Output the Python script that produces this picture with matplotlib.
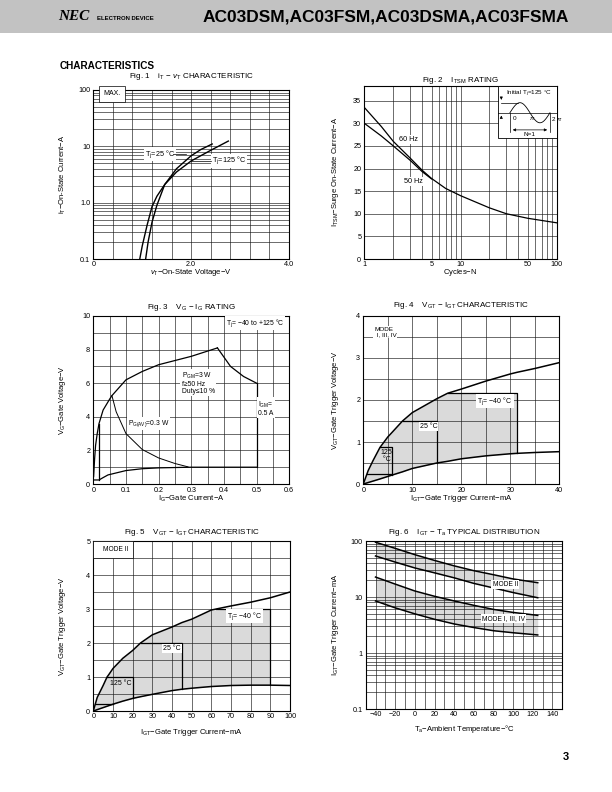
import numpy as np
import matplotlib
matplotlib.use('Agg')
from matplotlib import pyplot as plt
from matplotlib.patches import Rectangle

plt.rcParams['font.family'] = ['Liberation Sans', 'DejaVu Sans']
plt.rcParams['mathtext.fontset'] = 'custom'
plt.rcParams['mathtext.rm'] = 'Liberation Sans'
plt.rcParams['mathtext.it'] = 'Liberation Sans:italic'

W, H = 612, 792

# Fig 1: iT - vT
vT_125 = [0.95, 1.0, 1.1, 1.2, 1.3, 1.46, 1.7, 2.0, 2.4, 2.76]
iT_125 = [0.1, 0.17, 0.4, 0.85, 1.3, 2.1, 3.5, 5.5, 8.5, 12.4]
vT_25 = [1.07, 1.12, 1.2, 1.3, 1.46, 1.7, 2.0, 2.2, 2.43]
iT_25 = [0.1, 0.2, 0.45, 0.9, 2.1, 4.0, 6.8, 8.8, 11.0]

# Fig 2: ITSM rating
N_60 = [1, 1.5, 2, 3, 4, 5, 7, 10, 20, 30, 50, 100]
I_60 = [33.5, 29.3, 26.0, 22.3, 19.6, 17.8, 15.6, 14.0, 11.3, 10.0, 9.0, 8.0]
N_50 = [1, 1.5, 2, 3, 4, 5]
I_50 = [30.0, 27.2, 25.0, 21.8, 19.3, 17.7]

# Fig 3: VG - IG rating
IG_up = [0.001, 0.004, 0.007, 0.012, 0.0175, 0.03, 0.05, 0.057, 0.1, 0.15, 0.2, 0.3, 0.38]
VG_up = [0.44, 1.5, 2.3, 3.0, 3.6, 4.4, 5.05, 5.26, 6.2, 6.7, 7.1, 7.6, 8.1]
IG_pgm = [0.38, 0.42, 0.46, 0.5]
VG_pgm = [8.1, 7.0, 6.4, 6.0]
IG_pav = [0.057, 0.07, 0.1, 0.15, 0.2, 0.25, 0.29]
VG_pav = [5.26, 4.3, 3.0, 2.05, 1.55, 1.22, 1.02]
IG_lo = [0, 0.0175, 0.03, 0.045, 0.1, 0.15, 0.2, 0.3, 0.5]
VG_lo = [0.24, 0.24, 0.38, 0.54, 0.8, 0.91, 0.96, 1.0, 1.0]
IGM = 0.5

# Fig 4: VGT - IGT, mode I, III, IV
IGT4 = [0, 1, 2, 3.4, 5, 5.8, 8, 10, 15, 17.2, 20, 25, 30, 31.4, 35, 40]
VUP4 = [0, 0.32, 0.56, 0.87, 1.12, 1.22, 1.5, 1.7, 2.03, 2.16, 2.26, 2.45, 2.62, 2.66, 2.75, 2.89]
VLO4 = [0, 0.035, 0.07, 0.12, 0.18, 0.21, 0.29, 0.37, 0.5, 0.54, 0.6, 0.67, 0.72, 0.73, 0.75, 0.77]
BOX4_I = [5.8, 15.1, 31.4]
BOX4_V = [0.87, 1.51, 2.16]
BASE4_V = 0.25

# Fig 5: VGT - IGT, mode II
IGT5 = [0, 1, 2, 5, 7, 8, 10, 15, 20, 24, 30, 40, 45, 50, 60, 70, 80, 90, 100]
VUP5 = [0, 0.2, 0.4, 0.75, 1.0, 1.08, 1.25, 1.55, 1.78, 2.0, 2.24, 2.47, 2.6, 2.7, 2.97, 3.09, 3.2, 3.33, 3.5]
VLO5 = [0, 0.02, 0.04, 0.1, 0.14, 0.16, 0.2, 0.29, 0.37, 0.42, 0.49, 0.6, 0.64, 0.67, 0.72, 0.75, 0.76, 0.76, 0.75]
BOX5_I = [20, 45, 90]
BOX5_V = [1.0, 2.0, 3.0]
BASE5_V = 0.2

# Fig 6: IGT - Ta distribution
Ta = [-40, -20, 0, 20, 40, 60, 80, 100, 125]
m2_hi = [95, 74, 57, 45, 36, 29.5, 25, 21, 18]
m2_lo = [54, 42, 33, 27, 22, 17.5, 14.5, 12, 9.7]
m1_hi = [22.7, 17, 12.8, 10.3, 8.5, 7.1, 6.0, 5.3, 4.7]
m1_lo = [8.5, 6.4, 5.0, 4.0, 3.3, 2.85, 2.5, 2.3, 2.1]

fig = plt.figure(figsize=(6.12, 7.92), dpi=100)

def fx(x):
    return x / W

def fy(y):
    return 1 - y / H

TICK_FS = 5.2
LAB_FS = 5.5
GRID = dict(color='#1a1a1a', lw=0.45)
WHITE = dict(fc='white', ec='none', pad=0.8)
SHADE = '#dadada'


def make_ax(l, t, r, b, title, title_y, xlabel, xlabel_y, ylabel, ylabel_x):
    ax = fig.add_axes([fx(l), fy(b), (r - l) / W, (b - t) / H])
    for s in ax.spines.values():
        s.set_linewidth(0.8)
    ax.tick_params(which='both', length=0, labelsize=TICK_FS)
    ax.tick_params(axis='x', pad=1.8)
    ax.tick_params(axis='y', pad=2.2)
    fig.text(fx((l + r) / 2), fy(title_y), title, ha='center', va='center', fontsize=5.8)
    fig.text(fx((l + r) / 2), fy(xlabel_y), xlabel, ha='center', va='center', fontsize=LAB_FS)
    fig.text(fx(ylabel_x), fy((t + b) / 2), ylabel, ha='center', va='center',
             fontsize=LAB_FS, rotation=90)
    return ax


# header band
fig.patches.append(Rectangle((0, fy(33)), 1, 33 / H, transform=fig.transFigure,
                             fc='#c2c2c2', ec='none', zorder=0))
fig.text(fx(58), fy(17), 'NEC', fontsize=11, fontweight='bold', style='italic',
         family='Liberation Serif', va='center')
fig.text(fx(97), fy(18), 'ELECTRON DEVICE', fontsize=4.3, fontweight='bold', va='center')
fig.text(fx(386), fy(17), 'AC03DSM,AC03FSM,AC03DSMA,AC03FSMA', fontsize=12.5,
         fontweight='bold', ha='center', va='center')
fig.text(fx(60), fy(66), 'CHARACTERISTICS', fontsize=7.2, fontweight='bold', va='center')
fig.text(fx(566), fy(757), '3', fontsize=8, fontweight='bold', ha='center', va='center')

# ---------- Fig 1 ----------
ax1 = make_ax(93.3, 90, 289, 259,
              r'Fig. 1    i$_\mathrm{T}$ $-$ $\mathit{v}_\mathrm{T}$ CHARACTERISTIC', 77,
              r'$\mathit{v}_\mathrm{T}$$-$On-State Voltage$-$V', 273,
              r'i$_\mathrm{T}$$-$On-State Current$-$A', 63)
ax1.set_yscale('log')
ax1.set_xlim(0, 4.0)
ax1.set_ylim(0.1, 100)
ax1.set_xticks([0, 2, 4])
ax1.set_xticklabels(['0', '2.0', '4.0'])
ax1.set_xticks(np.arange(0, 4.01, 0.4), minor=True)
ax1.set_yticks([0.1, 1, 10, 100])
ax1.set_yticklabels(['0.1', '1.0', '10', '100'])
ax1.set_yticks([m * 10.0 ** e for e in (-1, 0, 1) for m in range(2, 10)], minor=True)
ax1.yaxis.set_minor_formatter(plt.NullFormatter())
ax1.grid(True, which='both', **GRID)
ax1.plot(vT_125, iT_125, color='k', lw=1.0)
ax1.plot(vT_25, iT_25, color='k', lw=1.0)
ax1.text(0.2, 85, 'MAX.', fontsize=5, va='center', zorder=5,
         bbox=dict(fc='white', ec='k', lw=0.5, boxstyle='square,pad=0.6'))
ax1.text(1.05, 7.3, r'T$_\mathrm{j}$=25 °C', fontsize=5.2, va='center', zorder=5, bbox=WHITE)
ax1.plot([1.62, 1.9], [7.3, 7.3], color='k', lw=0.5, zorder=5)
ax1.text(2.42, 5.6, r'T$_\mathrm{j}$=125 °C', fontsize=5.2, va='center', zorder=5, bbox=WHITE)
ax1.plot([2.0, 2.4], [5.6, 5.6], color='k', lw=0.5, zorder=5)

# ---------- Fig 2 ----------
ax2 = make_ax(364.3, 85.7, 556.7, 259,
              r'Fig. 2    I$_\mathrm{TSM}$ RATING', 80,
              r'Cycles$-$N', 273,
              r'I$_\mathrm{TSM}$$-$Surge On-State Current$-$A', 335)
ax2.set_xscale('log')
ax2.set_xlim(1, 100)
ax2.set_ylim(0, 38.3)
ax2.set_xticks([1, 5, 10, 50, 100])
ax2.set_xticklabels(['1', '5', '10', '50', '100'])
ax2.set_xticks([2, 3, 4, 6, 7, 8, 9, 20, 30, 40, 60, 70, 80, 90], minor=True)
ax2.xaxis.set_minor_formatter(plt.NullFormatter())
ax2.set_yticks(np.arange(0, 36, 5))
ax2.grid(True, which='both', **GRID)
ax2.plot(N_60, I_60, color='k', lw=0.9)
ax2.plot(N_50, I_50, color='k', lw=0.9)
ax2.text(2.3, 26.5, '60 Hz', fontsize=5.2, va='center', bbox=WHITE, zorder=5)
ax2.text(2.6, 17.1, '50 Hz', fontsize=5.2, va='center', bbox=WHITE, zorder=5)
# inset waveform sketch
tr = ax2.transAxes
ax2.add_patch(Rectangle((0.695, 0.698), 0.305, 0.302, transform=tr, fc='white',
                        ec='k', lw=0.6, zorder=4))
ph = np.linspace(0, 2 * np.pi, 60)
ax2.plot(0.757 + ph / (2 * np.pi) * 0.208, 0.844 + 0.058 * np.sin(ph), transform=tr,
         color='k', lw=0.6, zorder=5)
ax2.plot([0.695, 1.0], [0.844, 0.844], transform=tr, color='k', lw=0.5, zorder=5)
ax2.plot([0.712, 0.80], [0.902, 0.902], transform=tr, color='k', lw=0.5, zorder=5)
for xv in (0.757, 0.965):
    ax2.plot([xv, xv], [0.844, 0.73], transform=tr, color='k', lw=0.5, zorder=5)
ax2.annotate('', xy=(0.712, 0.902), xytext=(0.712, 0.95), xycoords=tr,
             arrowprops=dict(arrowstyle='-|>', lw=0.5, color='k', mutation_scale=4), zorder=5)
ax2.annotate('', xy=(0.712, 0.844), xytext=(0.712, 0.80), xycoords=tr,
             arrowprops=dict(arrowstyle='-|>', lw=0.5, color='k', mutation_scale=4), zorder=5)
ax2.annotate('', xy=(0.757, 0.745), xytext=(0.965, 0.745), xycoords=tr,
             arrowprops=dict(arrowstyle='<|-|>', lw=0.5, color='k', mutation_scale=4), zorder=5)
ax2.text(0.735, 0.955, r'Initial T$_\mathrm{j}$=125 °C', transform=tr, fontsize=4.5,
         va='center', zorder=6)
ax2.text(0.772, 0.81, '0', transform=tr, fontsize=4.6, va='center', zorder=6)
ax2.text(0.855, 0.81, r'$\pi$', transform=tr, fontsize=4.6, va='center', zorder=6)
ax2.text(0.968, 0.81, r'2 $\pi$', transform=tr, fontsize=4.6, va='center', zorder=6)
ax2.text(0.86, 0.716, 'N=1', transform=tr, fontsize=4.6, ha='center', va='center', zorder=6)

# ---------- Fig 3 ----------
ax3 = make_ax(93.3, 316, 289.3, 484,
              r'Fig. 3    V$_\mathrm{G}$ $-$ I$_\mathrm{G}$ RATING', 307.5,
              r'I$_\mathrm{G}$$-$Gate Current$-$A', 499,
              r'V$_\mathrm{G}$$-$Gate Voltage$-$V', 63)
ax3.set_xlim(0, 0.6)
ax3.set_ylim(0, 10)
ax3.set_xticks(np.arange(0, 0.61, 0.1))
ax3.set_xticklabels(['0', '0.1', '0.2', '0.3', '0.4', '0.5', '0.6'])
ax3.set_xticks(np.arange(0, 0.61, 0.05), minor=True)
ax3.set_yticks(np.arange(0, 11, 2))
ax3.set_yticks(np.arange(0, 11, 1), minor=True)
ax3.grid(True, which='both', **GRID)
ax3.plot(IG_up, VG_up, color='k', lw=0.9)
ax3.plot(IG_pgm, VG_pgm, color='k', lw=0.9)
ax3.plot(IG_pav, VG_pav, color='k', lw=0.7)
ax3.plot(IG_lo, VG_lo, color='k', lw=0.9)
ax3.plot([IGM, IGM], [VG_lo[-1], VG_pgm[-1]], color='k', lw=0.9)
ax3.plot([IG_lo[1], IG_lo[1]], [VG_lo[1], VG_up[4]], color='k', lw=0.9)
ax3.text(0.405, 9.56, r'T$_\mathrm{j}$= $-$40 to +125 °C', fontsize=4.9, va='center',
         bbox=WHITE, zorder=5)
ax3.text(0.27, 6.0, 'P$_\\mathrm{GM}$=3 W\nf≥50 Hz\nDuty≤10 %', fontsize=4.9,
         va='center', linespacing=1.0, bbox=WHITE, zorder=5)
ax3.text(0.505, 4.5, 'I$_\\mathrm{GM}$=\n0.5 A', fontsize=4.9, va='center',
         linespacing=1.1, bbox=WHITE, zorder=5)
ax3.text(0.105, 3.6, r'P$_\mathrm{G(AV)}$=0.3 W', fontsize=4.9, va='center',
         bbox=WHITE, zorder=5)


def trigger_chart(ax, I, Vup, Vlo, box_I, box_V, base_V):
    I = np.asarray(I, float)
    Vup = np.asarray(Vup, float)
    Vlo = np.asarray(Vlo, float)
    m = I <= box_I[-1]
    ax.fill_between(I[m], Vlo[m], np.minimum(Vup[m], box_V[-1]), color=SHADE,
                    lw=0, zorder=1)
    ax.plot(I, Vup, color='k', lw=1.1, zorder=3)
    ax.plot(I, Vlo, color='k', lw=1.1, zorder=3)
    for bi, bv in zip(box_I, box_V):
        i0 = np.interp(bv, Vup, I)
        ax.plot([i0, bi, bi], [bv, bv, np.interp(bi, I, Vlo)], color='k', lw=0.9, zorder=3)
    ax.plot([np.interp(base_V, Vup, I), min(box_I[0], np.interp(base_V, Vlo, I))],
            [base_V, base_V], color='k', lw=0.9, zorder=3)


# ---------- Fig 4 ----------
ax4 = make_ax(363.3, 316, 559.3, 484,
              r'Fig. 4    V$_\mathrm{GT}$ $-$ I$_\mathrm{GT}$ CHARACTERISTIC', 305,
              r'I$_\mathrm{GT}$$-$Gate Trigger Current$-$mA', 499,
              r'V$_\mathrm{GT}$$-$Gate Trigger Voltage$-$V', 335)
ax4.set_xlim(0, 40)
ax4.set_ylim(0, 4)
ax4.set_xticks(np.arange(0, 41, 10))
ax4.set_xticks(np.arange(0, 41, 5), minor=True)
ax4.set_yticks(np.arange(0, 5, 1))
ax4.set_yticks(np.arange(0, 4.01, 0.5), minor=True)
ax4.grid(True, which='both', **GRID)
trigger_chart(ax4, IGT4, VUP4, VLO4, BOX4_I, BOX4_V, BASE4_V)
ax4.text(2.3, 3.62, 'MODE\n I, III, IV', fontsize=4.6, va='center', linespacing=1.0,
         bbox=WHITE, zorder=5)
ax4.text(23.3, 1.98, r'T$_\mathrm{j}$= $-$40 °C', fontsize=5, va='center', bbox=WHITE, zorder=5)
ax4.text(11.5, 1.37, '25 °C', fontsize=5, va='center', bbox=WHITE, zorder=5)
ax4.text(3.6, 0.67, '125\n °C', fontsize=5, va='center', linespacing=1.0, zorder=5)

# ---------- Fig 5 ----------
ax5 = make_ax(93.3, 541, 290, 711,
              r'Fig. 5    V$_\mathrm{GT}$ $-$ I$_\mathrm{GT}$ CHARACTERISTIC', 532,
              r'I$_\mathrm{GT}$$-$Gate Trigger Current$-$mA', 733,
              r'V$_\mathrm{GT}$$-$Gate Trigger Voltage$-$V', 63)
ax5.set_xlim(0, 100)
ax5.set_ylim(0, 5)
ax5.set_xticks(np.arange(0, 101, 10))
ax5.set_yticks(np.arange(0, 6, 1))
ax5.set_yticks(np.arange(0, 5.01, 0.5), minor=True)
ax5.grid(True, which='both', **GRID)
trigger_chart(ax5, IGT5, VUP5, VLO5, BOX5_I, BOX5_V, BASE5_V)
ax5.add_patch(Rectangle((0, 4.5), 20, 0.5, fc='white', ec='k', lw=0.5, zorder=4))
ax5.text(5, 4.76, 'MODE II', fontsize=4.8, va='center', zorder=5)
ax5.text(67.8, 2.8, r'T$_\mathrm{j}$= $-$40 °C', fontsize=5, va='center', bbox=WHITE, zorder=5)
ax5.text(35.6, 1.84, '25 °C', fontsize=5, va='center', bbox=WHITE, zorder=5)
ax5.text(8.5, 0.81, '125 °C', fontsize=5, va='center', zorder=5)

# ---------- Fig 6 ----------
ax6 = make_ax(365.7, 541, 562.3, 709,
              r'Fig. 6    I$_\mathrm{GT}$ $-$ T$_\mathrm{a}$ TYPICAL DISTRIBUTION', 532,
              r'T$_\mathrm{a}$$-$Ambient Temperature$-$°C', 729,
              r'I$_\mathrm{GT}$$-$Gate Trigger Current$-$mA', 335)
ax6.set_yscale('log')
ax6.set_xlim(-50, 150)
ax6.set_ylim(0.1, 100)
ax6.set_xticks(np.arange(-40, 141, 20))
ax6.set_xticklabels([str(v).replace('-', '\u2212') for v in range(-40, 141, 20)])
ax6.set_xticks(np.arange(-50, 151, 10), minor=True)
ax6.set_yticks([0.1, 1, 10, 100])
ax6.set_yticklabels(['0.1', '1', '10', '100'])
ax6.set_yticks([m * 10.0 ** e for e in (-1, 0, 1) for m in range(2, 10)], minor=True)
ax6.yaxis.set_minor_formatter(plt.NullFormatter())
ax6.grid(True, which='both', **GRID)
ax6.fill_between(Ta, m2_lo, m2_hi, color=SHADE, lw=0, zorder=1)
ax6.fill_between(Ta, m1_lo, m1_hi, color=SHADE, lw=0, zorder=1)
for s in (m2_hi, m2_lo, m1_hi, m1_lo):
    ax6.plot(Ta, s, color='k', lw=1.1, zorder=3)
ax6.text(79, 16.5, 'MODE II', fontsize=4.8, va='center', bbox=WHITE, zorder=5)
ax6.text(68, 4.17, 'MODE I, III, IV', fontsize=4.8, va='center', bbox=WHITE, zorder=5)

fig.savefig('out.png', dpi=100)
